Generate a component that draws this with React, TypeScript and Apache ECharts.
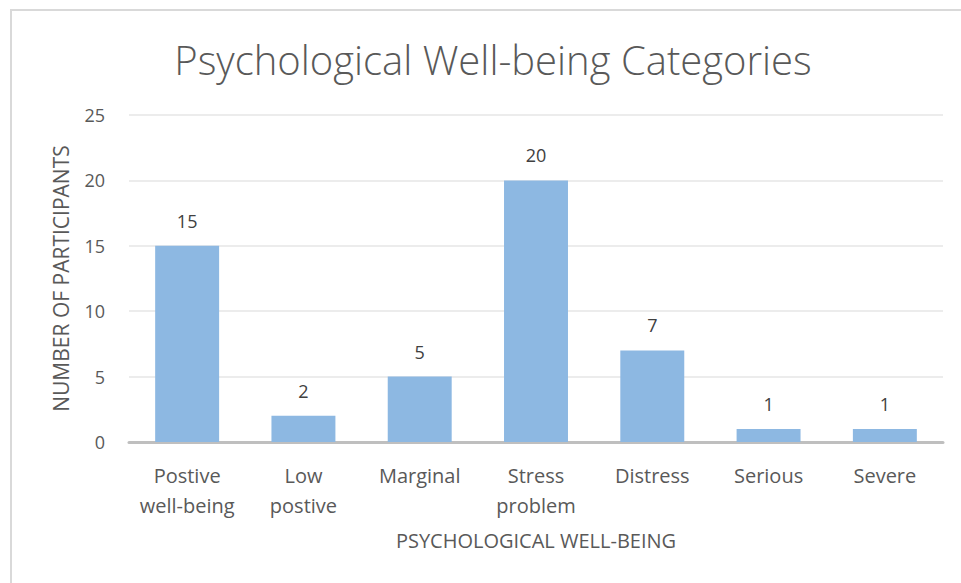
import React, { useEffect, useRef } from "react";
import * as echarts from "echarts";

const categories = ["Postive\nwell-being", "Low\npostive", "Marginal", "Stress\nproblem", "Distress", "Serious", "Severe"];
const values = [15, 2, 5, 20, 7, 1, 1];
const titleText = "Psychological Well-being Categories";
const yAxisTitle = "NUMBER OF PARTICIPANTS";
const xAxisTitle = "PSYCHOLOGICAL WELL-BEING";

const FONT = "'Open Sans', 'Noto Sans', sans-serif";

export default function App() {
  const ref = useRef<HTMLDivElement>(null);
  useEffect(() => {
    if (!ref.current) return;
    const chart = echarts.init(ref.current, null, { renderer: "svg" });
    chart.setOption({
      animation: false,
      backgroundColor: "#ffffff",
      title: {
        text: titleText,
        left: 488,
        top: 34,
        textAlign: "center",
        textStyle: { fontFamily: FONT, fontSize: 40, fontWeight: 300, color: "#595959" },
      },
      graphic: [
        {
          type: "rect",
          shape: { x: 11, y: 10, width: 970, height: 600 },
          style: { fill: "none", stroke: "#d9d9d9", lineWidth: 2 },
          silent: true,
        },
      ],
      grid: { left: 129, right: 18, top: 115, bottom: 141, containLabel: false },
      xAxis: {
        type: "category",
        data: categories,
        name: xAxisTitle,
        nameLocation: "middle",
        nameGap: 88,
        nameTextStyle: { fontFamily: FONT, fontSize: 20, color: "#595959" },
        axisLine: { lineStyle: { color: "#bfbfbf", width: 3 } },
        axisTick: { show: false },
        axisLabel: {
          fontFamily: FONT,
          fontSize: 20,
          color: "#595959",
          lineHeight: 30,
          margin: 18,
          interval: 0,
        },
      },
      yAxis: {
        type: "value",
        min: 0,
        max: 25,
        interval: 5,
        name: yAxisTitle,
        nameLocation: "middle",
        nameGap: 58,
        nameTextStyle: { fontFamily: FONT, fontSize: 21, color: "#595959" },
        axisLine: { show: false },
        axisTick: { show: false },
        splitLine: { lineStyle: { color: "#ececec", width: 2 } },
        axisLabel: { fontFamily: FONT, fontSize: 18, color: "#595959", margin: 24 },
      },
      series: [
        {
          type: "bar",
          data: values,
          barWidth: "55%",
          itemStyle: { color: "#8db8e2" },
          label: {
            show: true,
            position: "top",
            distance: 16,
            fontFamily: FONT,
            fontSize: 18,
            color: "#404040",
          },
        },
      ],
    });
    return () => chart.dispose();
  }, []);
  return (
    <div
      ref={ref}
      style={{ position: "absolute", left: 0, top: 0, width: 961, height: 583 }}
    />
  );
}
